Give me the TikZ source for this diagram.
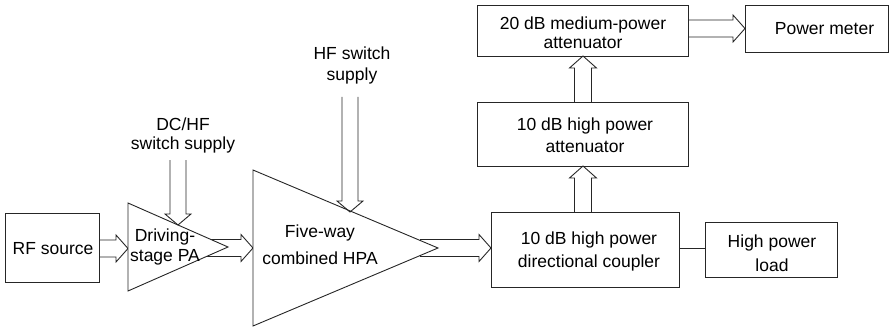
\documentclass[tikz,border=0pt]{standalone}
\usepackage{fontspec}
\setmainfont{Liberation Sans}
\usetikzlibrary{calc}
\newcommand{\dblR}[2]{\draw[conn] let \p1=(#1), \p2=(#2) in
  (\x1,\y2+8.5pt) -- (\x2-12pt,\y2+8.5pt) -- (\x2-12pt,\y2+13.5pt) -- (\x2,\y2)
  -- (\x2-12pt,\y2-13.5pt) -- (\x2-12pt,\y2-8.5pt) -- (\x1,\y2-8.5pt);}
\newcommand{\dblU}[2]{\draw[conn] let \p1=(#1), \p2=(#2) in
  (\x2-8.5pt,\y1) -- (\x2-8.5pt,\y2-12pt) -- (\x2-13.5pt,\y2-12pt) -- (\x2,\y2)
  -- (\x2+13.5pt,\y2-12pt) -- (\x2+8.5pt,\y2-12pt) -- (\x2+8.5pt,\y1);}
\newcommand{\dblD}[2]{\draw[conn] let \p1=(#1), \p2=(#2) in
  (\x2-8pt,\y1) -- (\x2-8pt,\y2+11pt) -- (\x2-13pt,\y2+11pt) -- (\x2,\y2)
  -- (\x2+13pt,\y2+11pt) -- (\x2+8pt,\y2+11pt) -- (\x2+8pt,\y1);}
\begin{document}
\begin{tikzpicture}[x=1pt,y=-1pt,
  conn/.style={draw=black!85,line width=0.9pt,line join=miter},
  box/.style={draw=black!85,line width=0.9pt,inner sep=0pt,fill=white},
  txt/.style={inner sep=0pt,align=center,font=\fontsize{17.5}{21}\selectfont},
  amp/.style={draw=black!85,line width=0.9pt,fill=white,line join=miter}]
\useasboundingbox (0,0) rectangle (892,329);
% boxes
\node[box,minimum width=94pt,minimum height=69pt] (rf) at (52,247.5) {};
\node[txt] (rftxt) at (53,249) {RF source};
\node[box,minimum width=188pt,minimum height=75pt] (cpl) at (585,249.5) {};
\node[txt,font=\fontsize{17.5}{23}\selectfont] (cpltxt) at (589,251) {10 dB high power\\directional coupler};
\node[box,minimum width=132pt,minimum height=55pt] (load) at (771,249.5) {};
\node[txt,font=\fontsize{17.5}{23.5}\selectfont] (loadtxt) at (772,253) {High power\\load};
\node[box,minimum width=211pt,minimum height=64pt] (att10) at (582.5,134) {};
\node[txt,font=\fontsize{17.5}{22}\selectfont] (att10txt) at (585,135) {10 dB high power\\attenuator};
\node[box,minimum width=211pt,minimum height=51pt] (att20) at (582.5,30.5) {};
\node[txt,font=\fontsize{17.5}{19}\selectfont] (att20txt) at (583,32.5) {20 dB medium-power\\attenuator};
\node[box,minimum width=143pt,minimum height=47pt] (pm) at (816.5,28.5) {};
\node[txt] (pmtxt) at (824.5,28.3) {Power meter};
% amplifier reference points
\coordinate (paT) at (128,203);
\coordinate (paB) at (128,291);
\coordinate (paA) at (228,247);
\coordinate (hpT) at (253,170);
\coordinate (hpB) at (253,326);
\coordinate (hpA) at (438,248);
\coordinate (paout) at (205,248);
\coordinate (hpout) at (420,248);
\coordinate (rfin) at (128,248.5);
\coordinate (hpin) at (253,248);
\coordinate (cplin) at (491,248);
% outgoing arrows (tails hidden by amplifiers)
\dblR{rf.east}{rfin}
\dblR{paout}{hpin}
\dblR{hpout}{cplin}
% amplifiers
\path[amp] (paT) -- (paA) -- (paB) -- cycle;
\path[amp] (hpT) -- (hpA) -- (hpB) -- cycle;
\node[txt,font=\fontsize{17.5}{20}\selectfont] (patxt) at (165,247) {Driving-\\stage PA};
\node[txt,font=\fontsize{17.5}{27}\selectfont] (hptxt) at (320,245) {Five-way\\combined HPA};
% supplies
\node[txt,font=\fontsize{17.5}{18.5}\selectfont] (dclbl) at (183,135.5) {DC/HF\\switch supply};
\node[txt] (hflbl) at (352,65) {HF switch\\supply};
\coordinate (dctail) at (178,160);
\coordinate (dctip) at (178,225);
\coordinate (hftail) at (350,97);
\coordinate (hftip) at (350,212);
\dblD{dctail}{dctip}
\dblD{hftail}{hftip}
% measurement chain
\coordinate (a10tip) at (583,166);
\coordinate (a20tip) at (583,56);
\coordinate (a10tail) at (583,212);
\coordinate (a20tail) at (583,102);
\dblU{a10tail}{a10tip}
\dblU{a20tail}{a20tip}
\coordinate (a20out) at (688,28.5);
\coordinate (pmin) at (745,28.5);
\dblR{a20out}{pmin}
\draw[conn] (cpl.east |- 0,248) -- (load.west |- 0,248);
\end{tikzpicture}
\end{document}
